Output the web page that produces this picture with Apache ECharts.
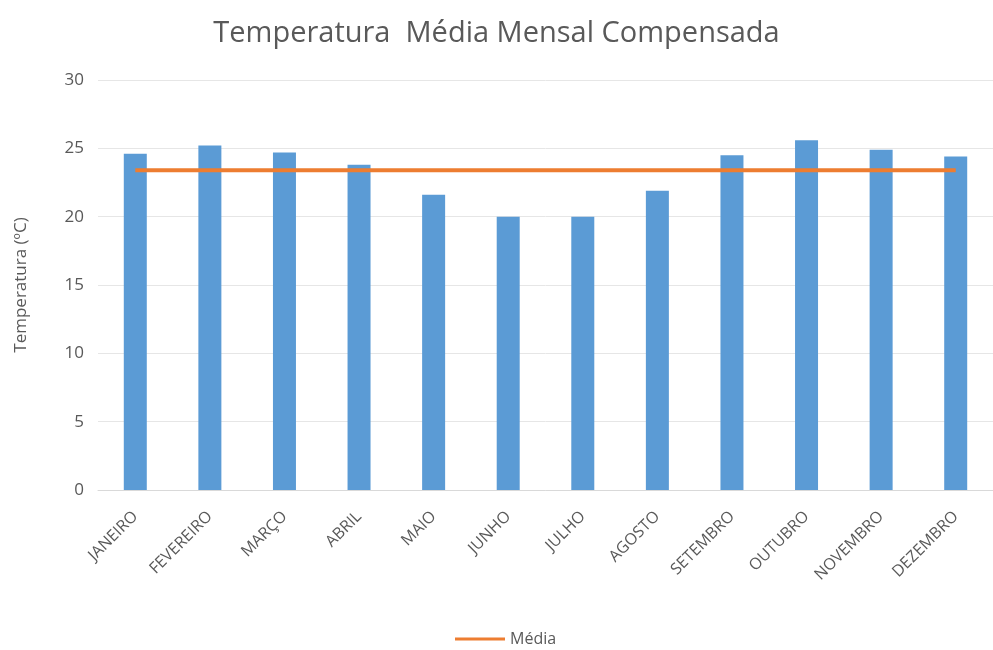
<!DOCTYPE html>
<html><head><meta charset="utf-8">
<script src="https://cdn.jsdelivr.net/npm/echarts@6/dist/echarts.min.js"></script>
<style>html,body{margin:0;padding:0;background:#fff}#c{width:993px;height:650px}</style>
</head><body><div id="c"></div>
<script>
const categories = ['JANEIRO','FEVEREIRO','MARÇO','ABRIL','MAIO','JUNHO','JULHO','AGOSTO','SETEMBRO','OUTUBRO','NOVEMBRO','DEZEMBRO'];
const temperatura = [24.6, 25.2, 24.7, 23.8, 21.6, 20.0, 20.0, 21.9, 24.5, 25.6, 24.9, 24.4];
const media = [23.4, 23.4, 23.4, 23.4, 23.4, 23.4, 23.4, 23.4, 23.4, 23.4, 23.4, 23.4];
const yTicks = {min: 0, max: 30, interval: 5};

const font = '"Open Sans", "Noto Sans", sans-serif';
const chart = echarts.init(document.getElementById('c'));
chart.setOption({
  animation: false,
  textStyle: {fontFamily: font},
  title: {
    text: 'Temperatura  Média Mensal Compensada',
    left: 'center', top: 14,
    textStyle: {fontFamily: font, fontSize: 29, fontWeight: 'normal', color: '#595959'}
  },
  legend: {
    data: [{name: 'Média', icon: 'path://M0,0 L50,0 L50,3 L0,3 Z'}],
    bottom: -2, left: 450,
    itemWidth: 50, itemHeight: 3, itemGap: 6,
    textStyle: {fontFamily: font, fontSize: 16, color: '#595959'}
  },
  grid: {left: 98, top: 80, width: 903, bottom: 160, containLabel: false},
  xAxis: {
    type: 'category', data: categories,
    axisTick: {show: false},
    axisLine: {lineStyle: {color: '#D9D9D9'}},
    axisLabel: {rotate: 45, fontFamily: font, fontSize: 16, color: '#595959', margin: 24, interval: 0}
  },
  yAxis: {
    type: 'value', min: yTicks.min, max: yTicks.max, interval: yTicks.interval,
    name: 'Temperatura (ºC)', nameLocation: 'middle', nameGap: 68, nameRotate: 90,
    nameTextStyle: {fontFamily: font, fontSize: 17, color: '#595959'},
    axisLine: {show: false}, axisTick: {show: false},
    axisLabel: {fontFamily: font, fontSize: 17, color: '#595959', margin: 14},
    splitLine: {lineStyle: {color: '#E6E6E6'}}
  },
  series: [
    {name: 'Temperatura', type: 'bar', data: temperatura, barWidth: 23,
     itemStyle: {color: '#5B9BD5'}},
    {name: 'Média', type: 'line', data: media, symbol: 'none',
     lineStyle: {color: '#ED7D31', width: 4}, itemStyle: {color: '#ED7D31'}}
  ]
});
</script>
</body></html>
